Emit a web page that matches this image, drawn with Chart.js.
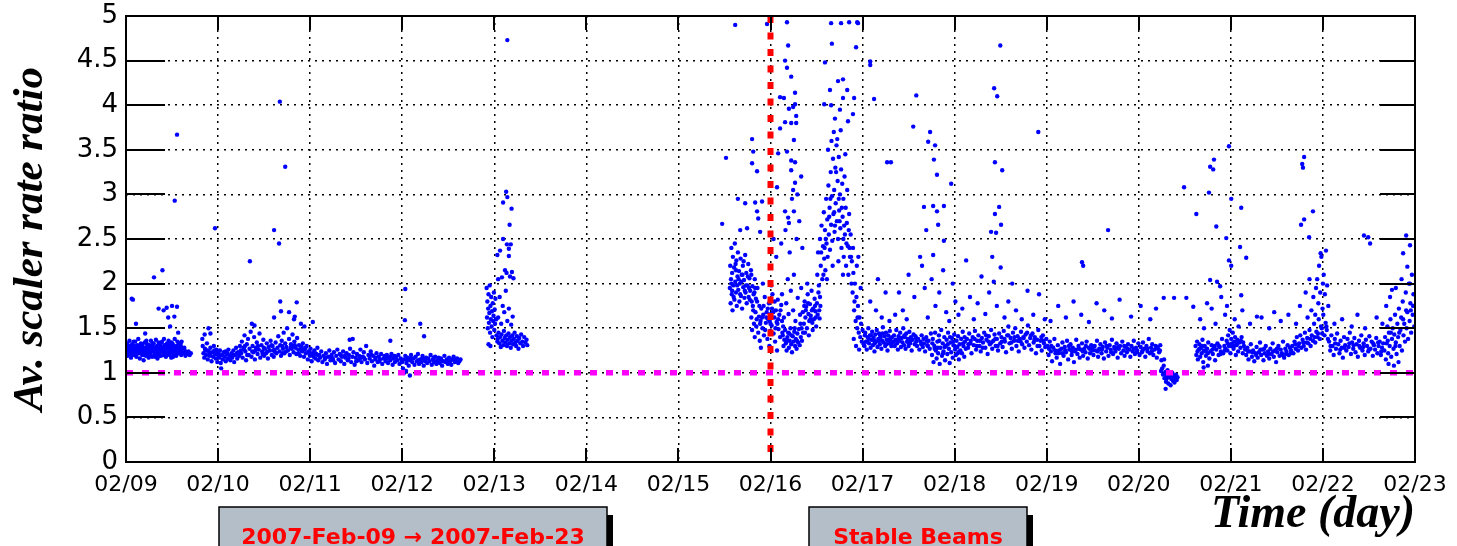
<!DOCTYPE html>
<html>
<head>
<meta charset="utf-8">
<script src="https://cdn.jsdelivr.net/npm/chart.js@4.4.0/dist/chart.umd.min.js"></script>
<style>
  body { margin: 0; background: #fff; }
  #wrap { width: 1457px; height: 546px; }
</style>
</head>
<body>
<div id="wrap"><canvas id="ratioChart" width="1457" height="546"></canvas></div>
<script>
// x = hours since 2007-02-09 00:00, y = average scaler rate ratio
var dayLabels = ['02/09','02/10','02/11','02/12','02/13','02/14','02/15','02/16','02/17','02/18','02/19','02/20','02/21','02/22','02/23'];
var refRatio = 1;          // magenta reference level
var stableBeamsHour = 168; // red marker, 02/16

// 02/09 run
var run0209 = [[0.1,1.28],[0.2,1.22],[0.3,1.33],[0.4,1.19],[0.5,1.26],[0.7,1.3],[0.8,1.24],[0.9,1.36],
  [1.0,1.21],[1.2,1.29],[1.3,1.17],[1.5,1.27],[1.6,1.32],[1.8,1.23],[1.9,1.26],
  [2.1,1.3],[2.2,1.2],[2.4,1.35],[2.5,1.25],[2.7,1.18],[2.8,1.28],[2.9,1.31],
  [3.1,1.24],[3.2,1.38],[3.4,1.22],[3.5,1.29],[3.6,1.16],[3.8,1.27],[3.9,1.33],
  [4.0,1.25],[4.2,1.2],[4.3,1.3],[4.5,1.27],[4.6,1.14],[4.8,1.23],[4.9,1.34],
  [5.1,1.28],[5.2,1.19],[5.4,1.26],[5.5,1.32],[5.7,1.22],[5.8,1.29],[5.9,1.17],
  [6.1,1.31],[6.2,1.25],[6.4,1.21],[6.5,1.36],[6.6,1.27],[6.8,1.18],[6.9,1.3],
  [7.1,1.24],[7.2,1.33],[7.4,1.2],[7.5,1.28],[7.7,1.25],[7.8,1.37],[7.9,1.22],
  [8.1,1.3],[8.2,1.16],[8.4,1.27],[8.5,1.34],[8.7,1.21],[8.8,1.26],[8.9,1.31],
  [9.1,1.19],[9.2,1.29],[9.4,1.35],[9.5,1.24],[9.7,1.2],[9.8,1.28],[9.9,1.38],
  [10.1,1.25],[10.2,1.31],[10.4,1.18],[10.5,1.27],[10.7,1.33],[10.8,1.22],[10.9,1.29],
  [11.1,1.36],[11.2,1.24],[11.4,1.2],[11.5,1.3],[11.7,1.27],[11.8,1.17],[11.9,1.34],
  [12.1,1.26],[12.2,1.32],[12.4,1.21],[12.5,1.29],[12.7,1.38],[12.8,1.23],[12.9,1.27],
  [13.1,1.19],[13.2,1.3],[13.4,1.35],[13.5,1.25],[13.7,1.22],[13.8,1.33],[13.9,1.28],
  [14.1,1.24],[14.3,1.3],[14.4,1.2],[14.6,1.27],[14.8,1.23],
  [15.0,1.22],[15.3,1.25],[15.5,1.19],[15.8,1.23],[16.0,1.21],[16.3,1.24],[16.6,1.2],[16.9,1.22],
  [0.6,1.25],[1.1,1.3],[1.7,1.2],[2.3,1.27],[3.0,1.22],[3.7,1.31],[4.4,1.24],[5.3,1.36],[6.0,1.21],[6.7,1.25],[7.6,1.18],
  [8.3,1.23],[9.0,1.33],[9.6,1.27],[10.3,1.22],[11.0,1.28],[11.6,1.23],[12.3,1.18],[13.0,1.26],[13.6,1.29],[14.2,1.33],[14.9,1.27],
  [0.35,1.31],[1.4,1.24],[2.0,1.35],[2.65,1.22],[3.3,1.26],[4.1,1.32],[4.7,1.2],[5.6,1.25],[6.3,1.28],[7.0,1.33],[7.9,1.29],
  [8.6,1.19],[9.3,1.24],[10.0,1.31],[10.6,1.2],[11.3,1.33],[12.0,1.24],[12.6,1.26],[13.3,1.22],[14.0,1.29],[14.5,1.35],[15.2,1.28],
  [1.5,1.83],[1.8,1.82],[7.3,2.07],[9.5,2.15],[8.5,1.72],[9.8,1.7],[11.0,1.62],[12.6,1.63],[10.6,1.73],
  [12.0,1.75],[13.3,1.74],[11.5,1.52],[13.6,1.45],[5.0,1.44],[2.6,1.55],[12.7,2.93],[13.3,3.67]];

// 02/10 - 02/12 run
var run0210 = [[20.0,1.3],[20.2,1.22],[20.4,1.17],[20.6,1.27],[20.9,1.2],[21.1,1.33],[21.3,1.15],[21.6,1.24],[21.8,1.19],[22.0,1.28],
  [22.3,1.13],[22.5,1.23],[22.7,1.18],[22.9,1.3],[23.2,1.21],[23.4,1.16],[23.6,1.26],[23.8,1.12],[24.0,1.2],
  [24.3,1.17],[24.5,1.25],[24.7,1.11],[25.0,1.2],[25.2,1.15],[25.5,1.23],[25.7,1.18],[26.0,1.13],[26.2,1.21],[26.5,1.16],[26.7,1.26],[27.0,1.19],
  [27.2,1.14],[27.5,1.22],[27.7,1.17],[28.0,1.25],[28.2,1.12],[28.5,1.2],[28.7,1.28],[29.0,1.16],[29.2,1.23],[29.5,1.19],[29.7,1.3],
  [30.0,1.22],[30.2,1.35],[30.4,1.17],[30.6,1.28],[30.9,1.42],[31.1,1.24],[31.3,1.14],[31.5,1.32],[31.8,1.38],[32.0,1.2],[32.2,1.27],[32.5,1.46],[32.7,1.18],[33.0,1.3],
  [33.2,1.23],[33.4,1.4],[33.6,1.15],[33.9,1.28],[34.1,1.34],[34.3,1.21],[34.6,1.26],[34.8,1.44],[35.0,1.17],[35.3,1.31],[35.5,1.24],[35.8,1.37],[36.0,1.19],
  [36.2,1.27],[36.5,1.22],[36.7,1.33],[37.0,1.16],[37.2,1.29],[37.5,1.25],[37.7,1.36],[38.0,1.2],[38.2,1.3],[38.5,1.18],[38.7,1.26],[39.0,1.34],[39.2,1.22],[39.5,1.28],[39.7,1.41],
  [40.0,1.24],[40.2,1.31],[40.4,1.19],[40.6,1.36],[40.9,1.27],[41.1,1.45],[41.3,1.22],[41.5,1.33],[41.8,1.29],[42.0,1.5],[42.2,1.25],[42.5,1.38],[42.7,1.2],[43.0,1.32],
  [43.2,1.27],[43.4,1.43],[43.7,1.23],[43.9,1.35],[44.2,1.28],[44.4,1.21],[44.6,1.39],[44.9,1.26],[45.1,1.31],[45.4,1.19],[45.6,1.27],[45.9,1.24],
  [46.1,1.33],[46.4,1.18],[46.6,1.26],[46.9,1.22],[47.1,1.3],[47.4,1.15],[47.6,1.24],[47.9,1.2],[48.1,1.27],[48.4,1.13],[48.6,1.22],[48.9,1.18],
  [49.1,1.25],[49.4,1.16],[49.6,1.21],[49.9,1.28],[50.1,1.14],[50.4,1.2],[50.6,1.17],
  [50.9,1.24],[51.2,1.12],[51.5,1.19],[51.8,1.15],[52.1,1.22],[52.4,1.1],[52.7,1.18],[53.0,1.25],[53.3,1.14],[53.6,1.2],[53.9,1.16],[54.2,1.23],
  [54.5,1.11],[54.8,1.19],[55.1,1.26],[55.4,1.15],[55.7,1.21],[56.0,1.13],[56.3,1.18],[56.6,1.24],[56.9,1.1],[57.2,1.17],[57.5,1.22],[57.8,1.14],
  [58.1,1.2],[58.4,1.27],[58.7,1.12],[59.0,1.18],[59.3,1.23],[59.6,1.09],
  [59.9,1.17],[60.2,1.21],[60.5,1.14],[60.8,1.19],[61.1,1.26],[61.4,1.12],[61.7,1.18],[62.0,1.23],[62.3,1.15],[62.6,1.3],[62.9,1.11],[63.2,1.2],
  [63.5,1.16],[63.8,1.24],[64.1,1.13],[64.4,1.19],[64.7,1.08],[65.0,1.17],[65.3,1.22],[65.6,1.12],[65.9,1.18],[66.2,1.15],[66.5,1.21],[66.8,1.1],
  [67.1,1.16],[67.4,1.19],[67.7,1.13],[68.0,1.2],[68.3,1.11],[68.6,1.17],[68.9,1.14],[69.2,1.21],[69.5,1.09],[69.8,1.16],[70.1,1.12],[70.4,1.18],[70.7,1.14],[71.0,1.2],
  [71.3,1.1],[71.6,1.16],[71.9,1.13],[72.2,1.05],[72.5,1.15],[72.8,1.19],[73.1,1.11],[73.4,1.17],[73.7,1.08],[74.0,1.14],[74.3,1.2],[74.6,1.12],
  [74.9,1.16],[75.2,1.09],[75.5,1.18],[75.8,1.13],[76.1,1.21],[76.4,1.1],[76.7,1.15],[77.0,1.12],[77.3,1.19],[77.6,1.08],[77.9,1.14],[78.2,1.17],
  [78.5,1.11],[78.8,1.16],[79.1,1.13],[79.4,1.2],[79.7,1.09],[80.0,1.15],[80.3,1.12],[80.6,1.18],[80.9,1.1],[81.2,1.14],[81.5,1.17],[81.8,1.11],
  [82.1,1.16],[82.4,1.08],[82.7,1.13],[83.0,1.19],[83.3,1.12],[83.6,1.15],[83.9,1.1],[84.2,1.17],[84.5,1.13],[84.8,1.09],[85.1,1.15],[85.4,1.18],
  [85.7,1.12],[86.0,1.14],[86.3,1.16],[86.6,1.11],[86.9,1.13],[87.2,1.15],
  [20.7,1.25],[21.9,1.21],[23.0,1.25],[24.1,1.22],[25.9,1.24],[27.9,1.2],[29.9,1.25],[30.8,1.26],[31.6,1.2],[32.9,1.24],[34.4,1.3],
  [35.6,1.21],[36.9,1.24],[37.9,1.31],[38.9,1.23],[40.7,1.3],[41.7,1.24],[42.9,1.28],[44.0,1.31],[45.0,1.22],[46.8,1.28],[48.0,1.19],
  [49.3,1.22],[52.0,1.17],[54.0,1.14],[56.0,1.2],[58.0,1.16],[60.0,1.13],[62.0,1.17],[64.0,1.2],[66.0,1.13],[68.0,1.16],[70.0,1.19],
  [72.0,1.12],[74.2,1.16],[76.2,1.14],[78.0,1.13],[80.2,1.17],[82.2,1.14],[84.0,1.12],[86.2,1.13],
  [21.2,1.25],[23.7,1.22],[26.4,1.22],[28.9,1.22],[31.0,1.3],[33.7,1.25],[35.9,1.28],[38.4,1.25],[40.8,1.22],[43.5,1.3],[45.8,1.29],
  [47.8,1.23],[50.0,1.2],[53.5,1.18],[57.0,1.19],[61.0,1.16],[65.0,1.15],[69.0,1.18],[73.2,1.14],[77.2,1.16],[81.0,1.13],[85.0,1.15],
  [19.9,1.38],[20.5,1.43],[21.5,1.5],[24.8,1.05],[22.0,1.44],[23.2,2.62],[32.3,2.25],[32.8,1.55],[33.5,1.53],[38.6,1.62],[40.2,1.8],[40.4,1.69],
  [42.5,1.68],[43.8,1.6],[44.5,1.79],[44.0,1.63],[45.6,1.55],[48.7,1.57],[46.5,1.52],[38.6,2.6],[39.9,2.45],[40.1,4.04],[41.5,3.31],
  [58.3,1.37],[59.1,1.38],[68.9,1.36],[72.8,1.94],[72.7,1.59],[76.7,1.55],[77.7,1.41],[73.0,1.02],[74.0,0.97],[72.5,1.0]];

// 02/13 run
var run0213 = [[94.0,1.95],[94.1,1.62],[94.2,1.8],[94.3,1.5],[94.4,1.72],[94.5,1.88],[94.6,1.56],[94.7,1.67],[94.8,1.98],[94.9,1.45],
  [95.0,1.75],[95.1,1.6],[95.2,1.85],[95.3,1.52],[95.4,1.69],[95.5,1.4],[95.6,1.78],[95.7,1.58],[95.8,1.64],[95.9,1.9],
  [96.0,1.48],[96.1,1.71],[96.2,1.55],[96.3,1.83],[96.5,1.6],[96.6,1.42],[96.8,1.35],[94.5,1.32],[95.0,1.3],
  [96.9,1.38],[97.1,1.45],[97.3,1.33],[97.5,1.4],[97.7,1.29],[97.9,1.43],[98.1,1.36],[98.3,1.31],[98.5,1.47],[98.7,1.39],
  [98.9,1.34],[99.1,1.42],[99.3,1.3],[99.5,1.37],[99.7,1.44],[99.9,1.33],[100.1,1.4],[100.3,1.28],[100.5,1.36],[100.7,1.42],
  [100.9,1.32],[101.1,1.38],[101.3,1.45],[101.5,1.34],[101.7,1.3],[101.9,1.41],[102.1,1.36],[102.3,1.27],[102.5,1.39],[102.8,1.33],
  [103.0,1.43],[103.3,1.35],[103.5,1.3],[103.8,1.4],[104.1,1.34],[104.4,1.37],[104.6,1.31],
  [97.0,1.62],[97.4,1.85],[97.8,1.55],[98.2,1.75],[98.6,1.68],[99.0,1.92],[99.4,1.58],[99.8,1.72],[100.4,1.54],[100.8,1.63],[98.0,2.07],[99.2,2.12],
  [99.1,3.03],[99.4,2.97],[98.3,2.91],[100.5,2.84],[100.0,2.66],[98.3,2.5],[99.3,2.44],[100.3,2.44],[99.8,2.39],[97.5,2.37],
  [96.8,2.32],[99.8,2.31],[98.8,2.15],[100.6,2.13],[100.1,2.08],[101.0,2.06],[97.0,2.05],[99.4,4.73]];

// 02/15 - 02/17 run (around the stable beams marker)
var run0215 = [[157.4,1.95],[157.5,2.2],[157.6,1.78],[157.7,2.05],[157.8,2.4],[157.9,1.88],[158.0,2.12],[158.1,1.7],[158.2,2.3],[158.3,1.98],
  [158.5,2.18],[158.6,1.82],[158.7,2.45],[158.8,2.02],[159.0,1.9],[159.1,2.26],[159.2,1.75],[159.4,2.08],[159.5,2.35],[159.6,1.93],
  [159.8,2.14],[159.9,1.8],[160.0,2.0],[160.2,2.28],[160.3,1.86],[160.5,2.1],[160.6,1.72],[160.8,2.2],[160.9,1.96],[161.1,2.04],
  [161.2,1.84],[161.4,2.32],[161.5,1.9],[161.7,2.12],[161.8,1.78],[162.0,1.98],[162.2,2.22],[162.3,1.85],[162.5,2.06],[162.7,1.92],
  [162.9,2.15],[163.1,1.8],[163.3,1.97],[163.6,1.88],[163.9,2.05],[164.2,1.83],[164.6,1.95],
  [163.0,1.62],[163.2,1.48],[163.4,1.75],[163.7,1.55],[163.9,1.4],[164.1,1.68],[164.3,1.52],[164.5,1.8],[164.8,1.45],[165.0,1.63],
  [165.2,1.36],[165.4,1.58],[165.6,1.72],[165.9,1.5],[166.1,1.65],[166.3,1.42],[166.5,1.85],[166.8,1.56],[167.0,1.68],[167.2,1.38],
  [167.4,1.6],[167.6,1.78],[167.9,1.47],[168.1,1.66],[168.3,1.53],[168.5,1.88],[168.8,1.44],[169.0,1.62],[169.2,1.35],[169.4,1.7],
  [169.6,1.57],[169.9,1.82],[170.1,1.49],[170.3,1.65],[170.5,1.4],[170.8,1.76],[171.0,1.58],[167.7,1.3],[165.5,1.28],[169.7,1.25],
  [164.0,1.95],[166.0,2.0],[168.2,1.98],
  [171.2,1.42],[171.4,1.3],[171.6,1.37],[171.8,1.48],[172.0,1.33],[172.2,1.25],[172.4,1.4],[172.6,1.45],[172.8,1.28],[173.0,1.36],
  [173.2,1.5],[173.4,1.32],[173.6,1.23],[173.8,1.41],[174.0,1.35],[174.2,1.46],[174.4,1.3],[174.6,1.38],[174.8,1.27],[175.0,1.44],
  [175.2,1.34],[175.4,1.49],[175.6,1.31],[175.9,1.4],[176.2,1.36],[176.5,1.45],[171.5,1.62],[172.1,1.78],[172.7,1.66],[173.3,1.92],
  [173.9,1.7],[174.5,1.58],[175.1,1.84],[175.7,1.65],[176.0,1.95],[172.5,2.05],[174.1,2.1],[171.0,1.88],
  [176.4,1.68],[176.7,1.55],[176.9,1.8],[177.1,1.62],[177.3,1.74],[177.5,1.5],[177.7,1.88],[177.9,1.66],[178.1,1.58],[178.3,1.77],
  [178.5,1.64],[178.7,1.92],[178.9,1.56],[179.1,1.72],[179.3,1.6],[179.5,1.83],[179.7,1.69],[179.9,1.52],[180.1,1.78],[180.3,1.65],
  [180.5,1.9],[180.8,1.61],[181.0,1.75],[177.0,1.45],[178.0,1.42],[179.0,1.48],[177.6,2.0],
  [180.2,2.1],[180.4,2.35],[180.6,1.98],[180.9,2.5],[181.1,2.2],[181.3,2.65],[181.5,2.05],[181.7,2.42],[181.9,2.8],[182.0,2.28],
  [182.2,2.6],[182.3,2.15],[182.5,2.95],[182.6,2.45],[182.8,2.72],[182.9,2.3],[183.1,3.1],[183.2,2.55],[183.4,2.85],[183.5,2.38],
  [183.7,3.25],[183.8,2.66],[184.0,2.98],[184.1,2.48],[184.3,3.4],[184.4,2.78],[184.6,3.05],[184.7,2.58],[184.9,3.3],[185.0,2.9],
  [185.2,3.55],[185.3,2.7],[185.5,3.15],[185.6,2.5],[185.8,3.42],[185.9,2.82],[186.1,3.0],[186.2,2.62],[186.4,3.28],[186.5,2.4],
  [186.7,3.12],[186.8,2.75],[187.0,2.95],[187.1,2.3],[187.3,3.2],[187.4,2.55],[187.6,2.85],[187.7,2.2],[187.9,2.68],[188.0,3.05],
  [188.2,2.42],[188.3,2.1],[188.5,2.78],[188.7,2.3],[188.9,2.55],[189.1,2.0],[183.0,3.5],[184.5,3.7],[185.4,3.62],[186.3,3.72],
  [187.5,3.45],[184.2,2.2],[185.7,2.25],[186.9,2.1],[182.7,2.05],[183.9,3.6],
  [189.2,2.25],[189.4,1.9],[189.6,2.12],[189.8,1.7],[190.0,2.0],[190.2,1.58],[190.4,1.85],[190.6,1.5],[190.8,1.75],[191.0,1.45],
  [191.2,1.62],[191.4,1.4],[191.6,1.55],[191.8,1.35],[192.0,1.48],[192.3,1.32],[192.6,1.42],[189.5,2.4],[190.5,2.2],[191.5,1.95],
  [190.9,2.3],[189.7,1.38],[190.3,1.3],[191.1,1.26],
  [192.5,1.3],[192.7,1.45],[192.9,1.35],[193.1,1.26],[193.3,1.4],[193.5,1.5],[193.7,1.33],[193.9,1.42],[194.1,1.28],[194.3,1.37],
  [194.5,1.46],[194.7,1.31],[194.9,1.39],[195.1,1.24],[195.3,1.43],[195.5,1.35],[195.7,1.48],[195.9,1.29],[196.1,1.38],[196.3,1.44],
  [196.5,1.32],[196.7,1.4],[196.9,1.27],[197.1,1.36],[197.3,1.51],[197.5,1.34],[197.7,1.41],[197.9,1.3],[198.1,1.45],[198.3,1.37],
  [198.5,1.25],[198.7,1.42],[198.9,1.33],[199.1,1.47],[199.3,1.36],[199.5,1.3],[199.7,1.4],[199.9,1.34],
  [157.8,2.0],[158.4,1.85],[158.9,2.22],[159.3,1.98],[159.7,2.05],[160.1,1.88],[160.7,2.1],[161.0,2.25],[161.6,1.98],[162.1,2.08],
  [162.6,1.82],[163.0,2.1],[163.5,1.7],[164.4,1.6],[165.1,1.75],[165.8,1.62],[166.6,1.48],[167.3,1.72],[168.0,1.55],[168.7,1.68],
  [169.3,1.5],[170.0,1.6],[171.3,1.52],[172.9,1.44],[174.3,1.5],[175.8,1.55],[177.2,1.7],[178.4,1.6],[179.6,1.75],[180.7,1.7],
  [181.2,2.35],[181.8,2.1],[182.4,2.5],[183.3,2.75],[183.6,2.95],[184.8,2.65],[185.1,3.25],[185.8,2.95],[186.6,2.85],[187.2,2.65],
  [187.8,2.45],[188.4,2.6],[189.0,2.3],[189.9,1.8],[190.7,1.62],[193.2,1.35],[194.2,1.42],[195.2,1.33],[196.2,1.36],[197.2,1.44],
  [198.2,1.32],[199.2,1.38],
  [165.3,1.55],[166.2,1.75],[166.9,1.62],[167.8,1.58],[168.4,1.72],[169.1,1.8],[169.8,1.55],[170.6,1.7],[171.1,1.45],[172.3,1.36],
  [173.5,1.42],[174.9,1.36],[176.1,1.5],[176.8,1.75],[177.8,1.78],[178.8,1.7],[179.8,1.62],[180.9,1.85],[158.0,1.92],[159.0,2.15],
  [160.4,2.02],[161.3,1.92],[162.4,1.95],[163.8,1.9],[193.6,1.38],[195.0,1.36],[196.6,1.42],[198.6,1.37],[182.1,2.4],[184.6,2.8],
  [186.0,2.7],[187.0,2.5],[188.6,2.4]];

// scattered high readings 02/15 - 02/17
var spikes0215 = [[158.8,4.9],[167.1,4.91],[172.3,4.93],[172.6,4.67],[171.8,4.5],[172.3,4.42],[173.4,4.32],[174.4,4.14],[170.5,4.09],
  [171.5,4.08],[174.4,4.01],[173.9,3.98],[172.8,3.96],[174.7,3.88],[171.8,3.81],[173.4,3.8],[174.7,3.8],[170.5,3.74],[174.1,3.61],
  [163.2,3.62],[163.5,3.48],[156.4,3.41],[163.2,3.35],[164.5,3.26],[170.0,3.46],[172.3,3.48],[173.4,3.38],[174.4,3.36],[173.4,3.27],
  [174.4,3.13],[169.7,3.08],[173.9,3.05],[173.6,2.95],[159.5,2.95],[161.4,2.9],[164.0,2.91],[165.8,2.92],[164.5,2.81],[171.8,2.81],
  [174.1,2.81],[172.6,2.74],[172.8,2.68],[164.8,2.73],[155.4,2.67],[160.1,2.6],[161.9,2.62],[165.3,2.58],
  [183.8,4.92],[186.4,4.92],[188.5,4.93],[190.6,4.93],[190.8,4.92],[184.0,4.69],[190.3,4.65],[182.2,4.48],[194.0,4.45],[194.0,4.49],
  [186.9,4.29],[185.6,4.27],[183.5,4.17],[188.0,4.17],[186.9,4.08],[189.8,4.08],[195.0,4.07],[182.0,4.01],[183.8,4.0],[186.1,3.95],
  [189.5,3.9],[184.8,3.85],[188.2,3.82],
  [170.8,2.45],[171.9,2.6],[173.0,2.35],[174.8,2.5],[175.5,2.7],[176.3,2.4],[175.0,3.0],[176.0,3.2],[169.5,2.3],[168.8,2.5],
  [194.0,1.8],[195.5,1.7],[197.0,1.62],[198.0,1.9],[199.0,1.58],[196.0,2.05],[198.4,3.36]];

// 02/17 - 02/20 run
var run0217 = [[200.2,1.42],[200.4,1.3],[200.6,1.37],[200.8,1.48],[201.0,1.33],[201.2,1.26],[201.4,1.41],[201.6,1.36],[201.8,1.45],[202.0,1.29],
  [202.2,1.39],[202.4,1.34],[202.6,1.5],[202.8,1.31],[203.0,1.4],[203.2,1.27],[203.4,1.44],[203.6,1.35],[203.8,1.38],[204.0,1.3],
  [204.2,1.46],[204.4,1.33],[204.6,1.4],[204.8,1.25],[205.0,1.37],[205.3,1.43],[205.6,1.32],[205.9,1.39],
  [206.2,1.3],[206.5,1.38],[206.8,1.26],[207.1,1.35],[207.4,1.42],[207.7,1.29],[208.0,1.33],[208.3,1.24],[208.6,1.4],[208.9,1.31],
  [209.2,1.36],[209.5,1.27],[209.8,1.44],
  [210.1,1.2],[210.3,1.38],[210.5,1.12],[210.7,1.3],[210.9,1.45],[211.1,1.25],[211.3,1.16],[211.5,1.35],[211.7,1.22],[211.9,1.42],
  [212.1,1.1],[212.3,1.28],[212.5,1.48],[212.7,1.19],[212.9,1.33],[213.1,1.24],[213.3,1.4],[213.5,1.14],[213.7,1.3],[213.9,1.37],
  [214.1,1.21],[214.3,1.45],[214.5,1.27],[214.7,1.11],[214.9,1.34],[215.1,1.23],[215.3,1.39],[215.5,1.17],[215.7,1.31],[215.9,1.43],
  [216.1,1.26],[216.3,1.2],[216.5,1.36],[216.7,1.29],[216.9,1.41],[217.1,1.15],[217.3,1.32],[217.5,1.25],[217.7,1.38],[217.9,1.22],
  [218.1,1.46],[218.3,1.3],[218.5,1.18],[218.7,1.35],[218.9,1.27],
  [219.2,1.38],[219.5,1.28],[219.8,1.44],[220.1,1.33],[220.4,1.22],[220.7,1.4],[221.0,1.31],[221.3,1.47],[221.6,1.26],[221.9,1.36],
  [222.2,1.42],[222.5,1.3],[222.8,1.24],[223.1,1.39],[223.4,1.34],[223.7,1.45],[224.0,1.28],[224.3,1.37],[224.6,1.21],[224.9,1.41],
  [225.2,1.32],[225.5,1.48],[225.8,1.27],[226.1,1.36],[226.4,1.43],[226.7,1.3],[227.0,1.38],[227.3,1.25],[227.6,1.44],[227.9,1.33],
  [228.2,1.4],[228.5,1.29],[228.8,1.47],[229.1,1.35],[229.4,1.23],[229.7,1.42],[230.0,1.52],[230.3,1.33],[230.6,1.39],[230.9,1.27],
  [231.2,1.45],[231.5,1.36],[231.8,1.5],[232.1,1.3],[232.4,1.41],[232.7,1.24],[233.0,1.38],[233.3,1.46],[233.6,1.32],[233.9,1.4],
  [234.2,1.28],[234.5,1.43],[234.8,1.35],[235.1,1.53],[235.4,1.31],[235.7,1.39],[236.0,1.26],[236.3,1.44],[236.6,1.34],[236.9,1.4],
  [237.2,1.22],[237.5,1.37],[237.8,1.48],[238.1,1.3],[238.4,1.36],[238.7,1.25],[239.0,1.42],[239.3,1.33],[239.6,1.29],[239.9,1.38],
  [240.2,1.3],[240.5,1.2],[240.8,1.35],[241.1,1.24],[241.4,1.13],[241.7,1.28],[242.0,1.38],[242.3,1.22],[242.6,1.17],[242.9,1.31],
  [243.2,1.25],[243.5,1.1],[243.8,1.27],[244.1,1.34],[244.4,1.19],[244.7,1.29],[245.0,1.23],[245.3,1.36],[245.6,1.15],[245.9,1.26],
  [246.2,1.32],[246.5,1.2],[246.8,1.28],[247.1,1.12],[247.4,1.24],[247.7,1.37],[248.0,1.21],[248.3,1.3],[248.6,1.17],[248.9,1.26],
  [249.2,1.33],[249.5,1.19],[249.8,1.27],[250.1,1.23],[250.4,1.35],[250.7,1.16],[251.0,1.28],[251.3,1.22],[251.6,1.31],[251.9,1.25],
  [252.2,1.2],[252.5,1.3],[252.8,1.25],[253.1,1.36],[253.4,1.18],[253.7,1.27],[254.0,1.32],[254.3,1.22],[254.6,1.29],[254.9,1.16],
  [255.2,1.34],[255.5,1.24],[255.8,1.28],[256.1,1.19],[256.4,1.31],[256.7,1.26],[257.0,1.37],[257.3,1.21],[257.6,1.29],[257.9,1.24],
  [258.2,1.33],[258.5,1.17],[258.8,1.27],[259.1,1.3],[259.4,1.22],[259.7,1.35],[260.0,1.25],[260.3,1.19],[260.6,1.29],[260.9,1.23],
  [261.2,1.32],[261.5,1.26],[261.8,1.18],[262.1,1.3],[262.4,1.24],[262.7,1.36],[263.0,1.21],[263.3,1.28],[263.6,1.25],[263.9,1.33],
  [264.2,1.2],[264.5,1.29],[264.8,1.23],[265.1,1.34],[265.4,1.27],[265.7,1.18],[266.0,1.3],[266.3,1.24],[266.6,1.38],[266.9,1.22],
  [267.2,1.28],[267.5,1.32],[267.8,1.2],[268.1,1.26],[268.4,1.3],[268.7,1.17],[269.0,1.27],[269.3,1.23],[269.6,1.31],[269.9,1.14],
  [270.1,1.05],[270.3,0.98],[270.5,1.08],[270.7,0.94],[270.9,1.01],[271.1,0.9],[271.3,0.97],[271.5,1.03],[271.7,0.88],[271.9,0.95],
  [272.1,0.99],[272.3,0.86],[272.5,0.93],[272.7,1.0],[272.9,0.91],[273.1,0.96],[273.3,0.89],[273.5,0.94],[273.7,0.98],[273.9,0.92],
  [274.1,0.95],[270.6,1.15],[271.0,0.82],[269.8,1.02],
  [201.1,1.37],[202.9,1.42],[204.5,1.36],[206.0,1.35],[207.9,1.38],[209.0,1.3],[210.8,1.27],[212.0,1.36],[213.4,1.29],[214.8,1.4],
  [216.0,1.3],[217.2,1.24],[218.6,1.4],[220.2,1.36],[221.8,1.3],[223.3,1.28],[224.8,1.35],[226.6,1.38],[228.3,1.35],[230.0,1.42],
  [231.6,1.4],[233.2,1.35],[234.9,1.45],[236.8,1.37],[238.6,1.4],[240.6,1.27],[242.2,1.25],[244.0,1.22],[245.8,1.3],[247.6,1.26],
  [249.4,1.24],[251.2,1.27],[253.3,1.24],[255.6,1.3],[257.8,1.27],[260.2,1.3],[262.6,1.27],[265.0,1.25],[267.4,1.24],[269.5,1.25],
  [271.2,0.93],[272.8,0.97],
  [200.1,1.35],[201.9,1.38],[203.9,1.34],[205.8,1.41],[207.3,1.32],[208.8,1.36],[210.2,1.33],[211.6,1.28],[213.0,1.22],[214.2,1.32],
  [215.6,1.35],[216.8,1.22],[218.2,1.33],[219.6,1.32],[221.2,1.38],[222.6,1.36],[224.2,1.42],[225.6,1.34],[227.2,1.3],[229.0,1.38],
  [230.8,1.34],[232.5,1.36],[234.0,1.39],[235.9,1.42],[237.6,1.3],[239.2,1.36],[241.2,1.3],[243.0,1.22],[244.8,1.25],[246.6,1.24],
  [248.4,1.27],[250.2,1.3],[252.0,1.28],[254.4,1.26],[256.8,1.23],[258.6,1.29],[261.0,1.27],[263.4,1.23],[266.2,1.27],[268.8,1.29]];

// scattered high readings 02/17 - 02/20
var spikes0217 = [[206.0,4.11],[205.2,3.76],[209.6,3.7],[209.1,3.59],[210.9,3.55],[210.6,3.39],[211.4,3.22],[215.1,3.12],[199.4,3.36],
  [208.0,2.86],[210.4,2.87],[213.2,2.87],[211.4,2.81],[211.7,2.66],[208.6,2.6],[213.2,2.48],[210.4,2.32],
  [226.3,4.19],[227.1,4.1],[227.9,4.67],[237.8,3.7],[226.5,3.36],[228.4,3.27],[227.6,2.86],[226.5,2.78],[228.1,2.66],[225.5,2.58],
  [226.8,2.57],[256.0,2.6],[249.2,2.24],[249.5,2.2],
  [202.5,1.7],[204.0,2.1],[205.5,1.85],[207.0,2.3],[207.5,2.2],[208.2,1.95],[209.0,1.62],[210.0,2.05],[211.0,1.75],[212.0,1.9],
  [213.0,2.15],[213.8,1.68],[214.6,1.58],[215.5,2.0],[216.2,1.8],[217.0,1.65],[218.0,1.72],[219.0,2.26],[220.0,1.85],[221.0,1.6],
  [222.0,1.78],[223.0,2.08],[224.0,1.66],[225.0,1.9],[225.8,2.3],[226.2,2.02],[227.0,1.75],[228.0,2.18],[229.0,1.62],[230.0,1.8],
  [231.0,2.0],[232.0,1.7],[233.5,1.6],[235.0,1.92],[236.5,1.65],[238.0,1.88],[239.5,1.6],[241.0,1.58],[243.0,1.75],[245.0,1.62],
  [247.0,1.8],[249.0,1.65],[251.0,1.57],[253.0,1.78],[255.0,1.7],[257.0,1.61],[259.0,1.82],[262.0,1.63],[264.5,1.75],[267.0,1.6],
  [268.5,1.72],[270.5,1.84],[273.2,1.84],[276.4,1.84],[278.2,1.74],[200.5,1.65],[201.5,1.9],[203.5,1.6]];

// 02/20 - 02/23 run
var run0220 = [[278.8,1.3],[279.0,1.2],[279.2,1.35],[279.4,1.15],[279.6,1.26],[279.8,1.32],[280.0,1.18],[280.2,1.28],[280.4,1.22],[280.6,1.37],
  [280.8,1.12],[281.0,1.25],[281.2,1.3],[281.5,1.19],[281.8,1.27],[282.1,1.34],[282.4,1.16],[282.7,1.24],[283.0,1.31],[283.3,1.21],
  [283.6,1.28],[283.9,1.14],[284.2,1.26],[284.5,1.33],[284.8,1.2],[285.1,1.29],[285.4,1.24],[285.7,1.38],[286.0,1.22],[286.3,1.3],
  [286.6,1.27],[280.9,1.06],[282.0,1.08],
  [286.9,1.36],[287.1,1.25],[287.3,1.42],[287.5,1.3],[287.7,1.48],[287.9,1.22],[288.1,1.38],[288.3,1.33],[288.5,1.45],[288.7,1.27],
  [288.9,1.35],[289.1,1.4],[289.3,1.2],[289.5,1.31],[289.7,1.37],[289.9,1.24],[290.2,1.34],[290.5,1.28],[290.8,1.4],[291.1,1.22],
  [291.4,1.3],[291.7,1.26],
  [292.0,1.2],[292.3,1.28],[292.6,1.15],[292.9,1.24],[293.2,1.32],[293.5,1.18],[293.8,1.25],[294.1,1.13],[294.4,1.22],[294.7,1.29],
  [295.0,1.17],[295.3,1.23],[295.6,1.34],[295.9,1.2],[296.2,1.26],[296.5,1.14],[296.8,1.22],[297.1,1.3],[297.4,1.19],[297.7,1.24],
  [298.0,1.16],[298.3,1.27],[298.6,1.21],[298.9,1.33],[299.2,1.18],[299.5,1.25],[299.8,1.12],[300.1,1.23],[300.4,1.3],[300.7,1.19],
  [301.0,1.26],[301.3,1.22],[301.6,1.35],[301.9,1.17],[302.2,1.27],[302.5,1.24],[302.8,1.31],[303.1,1.2],[303.4,1.28],[303.7,1.25],
  [304.0,1.3],[304.3,1.22],[304.6,1.35],[304.9,1.27],[305.2,1.4],[305.5,1.25],[305.8,1.33],[306.1,1.42],[306.4,1.28],[306.7,1.37],
  [307.0,1.3],[307.3,1.45],[307.6,1.26],[307.9,1.39],[308.2,1.33],[308.5,1.48],[308.8,1.3],[309.1,1.42],[309.4,1.36],[309.7,1.55],
  [310.0,1.34],[310.3,1.46],[310.6,1.4],[310.9,1.6],[311.2,1.38],[311.5,1.52],[311.8,1.44],[312.1,1.65],[312.4,1.42],[312.7,1.56],
  [313.0,1.48],[313.3,1.38],
  [309.0,1.7],[309.5,1.85],[310.2,1.95],[310.5,2.05],[310.8,1.78],[311.0,2.2],[311.3,1.9],[311.6,2.3],[311.9,1.72],[312.2,2.1],
  [312.5,1.88],[312.8,2.37],[313.1,1.98],[313.4,1.75],[311.4,2.34],[312.0,2.0],[310.0,1.65],[308.0,1.62],
  [313.6,1.35],[313.9,1.25],[314.2,1.42],[314.5,1.3],[314.8,1.2],[315.1,1.38],[315.4,1.27],[315.7,1.44],[316.0,1.32],[316.3,1.22],
  [316.6,1.36],[316.9,1.28],[317.2,1.17],[317.5,1.4],[317.8,1.31],[318.1,1.25],[318.4,1.38],[318.7,1.29],[319.0,1.45],[319.3,1.21],
  [319.6,1.34],[319.9,1.27],[320.2,1.39],[320.5,1.23],[320.8,1.32],[321.1,1.18],[321.4,1.36],[321.7,1.28],[322.0,1.42],[322.3,1.25],
  [322.6,1.33],[322.9,1.2],[323.2,1.37],[323.5,1.3],[323.8,1.24],[324.1,1.41],[324.4,1.27],[324.7,1.35],[325.0,1.19],[325.3,1.31],
  [325.6,1.26],[325.9,1.39],[326.2,1.22],[326.5,1.3],[326.8,1.35],[327.1,1.2],[327.4,1.28],[327.7,1.33],
  [328.0,1.25],[328.2,1.4],[328.4,1.15],[328.6,1.33],[328.8,1.52],[329.0,1.22],[329.2,1.45],[329.4,1.3],[329.6,1.6],[329.8,1.18],
  [330.0,1.38],[330.2,1.5],[330.4,1.27],[330.6,1.43],[330.8,1.65],[331.0,1.34],[331.2,1.21],[331.4,1.55],[331.6,1.4],[331.8,1.72],
  [332.0,1.3],[332.2,1.48],[332.4,1.62],[332.6,1.25],[332.8,1.8],[333.0,1.42],[333.2,1.55],[333.4,1.35],[333.6,1.9],[333.8,1.5],
  [334.0,1.68],[334.2,1.38],[334.4,2.0],[334.6,1.58],[334.8,1.78],[335.0,1.45],[335.2,2.1],[335.4,1.65],[335.6,1.88],[335.8,1.52],
  [329.1,1.1],[330.5,1.08],[331.7,1.12],
  [279.3,1.24],[280.5,1.3],[282.0,1.22],[283.8,1.3],[285.3,1.21],[287.2,1.33],[288.8,1.3],[290.6,1.36],[292.5,1.24],[294.6,1.2],
  [296.7,1.27],[299.0,1.24],[301.5,1.2],[303.6,1.22],[305.6,1.3],[307.8,1.34],[309.8,1.4],[311.7,1.5],[314.0,1.3],[316.5,1.26],
  [318.9,1.33],[321.5,1.3],[324.0,1.26],[326.4,1.34],[328.9,1.36],[330.9,1.3],[332.9,1.6],[334.9,1.7],
  [279.9,1.27],[281.4,1.24],[283.2,1.26],[284.9,1.3],[286.4,1.25],[288.0,1.3],[289.6,1.33],[291.2,1.34],[293.6,1.23],[295.7,1.26],
  [297.8,1.21],[300.0,1.27],[302.4,1.21],[304.8,1.32],[306.9,1.34],[308.7,1.38],[310.7,1.44],[312.9,1.52],[315.2,1.33],[317.6,1.28],
  [320.0,1.31],[322.5,1.29],[325.1,1.33],[327.2,1.24],[329.7,1.45],[331.9,1.45],[333.7,1.7],[335.5,1.75]];

// scattered high readings 02/20 - 02/23
var spikes0220 = [[275.8,3.08],[279.0,2.78],[282.3,3.02],[283.6,3.39],[282.6,3.31],[283.4,3.28],[287.5,3.54],[288.1,2.95],[290.7,2.85],
  [284.2,2.64],[286.8,2.51],[290.4,2.41],[281.8,1.78],[282.6,2.04],[284.4,2.02],[285.2,1.97],[287.5,2.26],[288.1,2.2],[292.0,2.29],
  [290.7,1.87],[299.3,1.68],[294.8,1.63],[306.6,3.34],[307.1,3.42],[306.8,3.3],[309.4,2.81],[307.1,2.72],[306.3,2.66],[308.4,2.52],
  [322.7,2.54],[323.8,2.52],[324.3,2.45],[333.7,2.54],[334.7,2.43],[332.9,2.34],[334.0,2.19],[334.7,2.0],[330.0,1.93],
  [280.0,1.6],[281.0,1.5],[283.0,1.72],[284.0,1.55],[285.5,1.85],[286.5,1.65],[287.0,1.75],[289.0,1.6],[290.0,1.52],[291.0,1.7],
  [293.0,1.55],[296.0,1.62],[298.0,1.5],[301.0,1.58],[303.0,1.65],[305.0,1.55],[306.0,1.75],[307.5,1.9],[308.5,2.05],[315.0,1.55],
  [317.0,1.6],[319.5,1.52],[321.0,1.65],[323.0,1.5],[326.0,1.62],[327.5,1.55],[329.5,1.85],[331.0,1.95],[332.5,2.05],[328.5,1.75]];

var allReadings = [].concat(run0209, run0210, run0213, run0215, spikes0215, run0217, spikes0217, run0220, spikes0220);

// frame + inward ticks, ROOT style, and the two label boxes under the axis
var frameAndTicks = {
    id: 'frameAndTicks',
    afterDraw: function (chart) {
        var ctx = chart.ctx;
        var a = chart.chartArea;
        var xs = chart.scales.x, ys = chart.scales.y;
        ctx.save();
        ctx.strokeStyle = '#000';
        ctx.lineWidth = 2;
        ctx.beginPath();
        ys.ticks.forEach(function (t) {
            var py = Math.round(ys.getPixelForValue(t.value));
            ctx.moveTo(a.left, py); ctx.lineTo(a.left + 39, py);
            ctx.moveTo(a.right, py); ctx.lineTo(a.right - 35, py);
        });
        xs.ticks.forEach(function (t) {
            var px = Math.round(xs.getPixelForValue(t.value));
            ctx.moveTo(px, a.bottom); ctx.lineTo(px, a.bottom - 14);
            ctx.moveTo(px, a.top); ctx.lineTo(px, a.top + 14);
        });
        ctx.stroke();
        ctx.strokeRect(a.left, a.top, a.right - a.left, a.bottom - a.top);

        function labelBox(x0, x1, text) {
            ctx.fillStyle = '#000';
            ctx.fillRect(x1, 515, 6, 40);
            ctx.fillStyle = '#b4bec8';
            ctx.fillRect(x0, 507, x1 - x0, 45);
            ctx.lineWidth = 1.5;
            ctx.strokeRect(x0, 507, x1 - x0, 45);
            ctx.fillStyle = '#ff0000';
            ctx.font = 'bold 22px "DejaVu Sans"';
            ctx.textAlign = 'center';
            ctx.textBaseline = 'alphabetic';
            ctx.fillText(text, (x0 + x1) / 2, 544);
        }
        labelBox(219, 607, '2007-Feb-09 \u2192 2007-Feb-23');
        labelBox(809, 1027, 'Stable Beams');
        ctx.restore();
    }
};

var ctx = document.getElementById('ratioChart');
var ratioChart = new Chart(ctx, {
    type: 'scatter',
    data: {
        datasets: [{
            type: 'line',
            data: [[0, refRatio], [336, refRatio]],
            borderColor: '#ff00ff',
            borderWidth: 5.5,
            borderDash: [7, 9],
            borderCapStyle: 'butt',
            pointRadius: 0,
            order: 0
        }, {
            type: 'line',
            data: [[stableBeamsHour, 5], [stableBeamsHour, 0]],
            borderColor: '#ff0000',
            borderWidth: 6,
            borderDash: [7, 9.5],
            borderCapStyle: 'butt',
            pointRadius: 0,
            order: 0
        }, {
            data: allReadings,
            backgroundColor: '#0000ff',
            borderWidth: 0,
            pointRadius: 2.2,
            order: 1
        }]
    },
    options: {
        responsive: false,
        animation: false,
        layout: { padding: { top: 16, right: 42, left: 0, bottom: 0 } },
        plugins: { legend: { display: false }, tooltip: { enabled: false } },
        scales: {
            x: {
                type: 'linear',
                min: 0,
                max: 336,
                grid: { color: '#000', lineWidth: 1.5, drawTicks: false },
                border: { display: false, dash: [2, 5] },
                ticks: {
                    stepSize: 24,
                    autoSkip: false,
                    maxRotation: 0,
                    padding: 10,
                    color: '#000',
                    font: { family: 'DejaVu Sans', size: 22 },
                    callback: function (v) { return dayLabels[Math.round(v / 24)]; }
                },
                title: {
                    display: true,
                    text: 'Time (day)',
                    align: 'end',
                    color: '#000',
                    font: { family: 'Liberation Serif', size: 46, style: 'italic', weight: 'bold' },
                    padding: { top: 0, bottom: 3 }
                },
                afterFit: function (scale) {
                    scale.height = 84;
                    scale.paddingLeft = 0; scale.paddingRight = 0;
                }
            },
            y: {
                min: 0,
                max: 5,
                grid: { color: '#000', lineWidth: 1.5, drawTicks: false },
                border: { display: false, dash: [2, 5] },
                ticks: {
                    stepSize: 0.5,
                    padding: 8,
                    color: '#000',
                    font: { family: 'DejaVu Sans', size: 26 },
                    callback: function (v) { return String(v); }
                },
                title: {
                    display: true,
                    text: 'Av. scaler rate ratio',
                    color: '#000',
                    font: { family: 'Liberation Serif', size: 43, style: 'italic', weight: 'bold' },
                    padding: { top: 5, bottom: 0 }
                },
                afterFit: function (scale) {
                    scale.width = 126;
                    scale.paddingTop = 0; scale.paddingBottom = 0;
                }
            }
        }
    },
    plugins: [frameAndTicks]
});
</script>
</body>
</html>
